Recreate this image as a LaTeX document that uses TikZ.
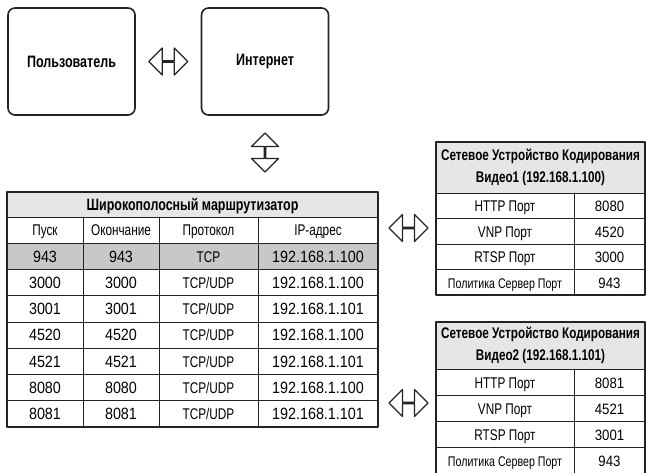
\documentclass[tikz,border=0pt]{standalone}
\usepackage{fontspec}
\setmainfont{Liberation Sans}[FakeStretch=0.76]
\newfontfamily\numfont{Liberation Sans}[FakeStretch=0.88]
\usetikzlibrary{shapes.arrows,calc}
\definecolor{hdrgray}{RGB}{230,230,230}
\definecolor{rowgray}{RGB}{200,200,200}
\definecolor{linegray}{RGB}{35,35,35}
\newcommand\polfont{\fontsize{14}{16}\selectfont}
\begin{document}
\begin{tikzpicture}[x=1pt, y=-1pt, line join=round, line cap=round,
  box/.style={draw=linegray, line width=1.6pt, rounded corners=7pt,
    minimum width=127pt, minimum height=107pt,
    font=\fontsize{16.5}{19}\selectfont\bfseries},
  dblarr/.style={double arrow, draw=linegray, line width=1.2pt, fill=white,
    inner sep=0pt, minimum width=27pt, minimum height=39pt,
    double arrow head extend=9.5pt},
  cell/.style={inner sep=0pt, text height=11.5pt, text depth=0pt,
    font=\fontsize{15.5}{18}\selectfont},
  num/.style={cell, font=\fontsize{16.3}{18}\numfont},
  snum/.style={cell, font=\fontsize{15}{18}\numfont},
  hcell/.style={inner sep=0pt, align=center,
    font=\fontsize{15.4}{22}\selectfont\bfseries},
  innerline/.style={draw=linegray, line width=0.9pt},
  outerline/.style={draw=linegray, line width=1.8pt}]
\useasboundingbox (0,0) rectangle (647,473);
% Hai khung tren
\node[box] (user) at (71.5,61.5) {Пользователь};
\node[box] (inet) at (265,61.5) {Интернет};
\node[dblarr] (a1) at ($(user.east)!0.5!(inet.west)$) {};
\node[dblarr, rotate=90] (a2) at (265,152.5) {};
% Bang lon: cot x = 7, 83, 159, 258, 378
\def\rh{26.25}
\fill[hdrgray] (7,192) rectangle (378,217);
\fill[rowgray] (7,{217+\rh}) rectangle (378,{217+2*\rh});
\draw[innerline] (7,217) -- (378,217);
\foreach \k in {1,...,7}
  \draw[innerline] (7,{217+\k*\rh}) -- (378,{217+\k*\rh});
\foreach \x in {83,159,258}
  \draw[innerline] (\x,217) -- (\x,427);
\draw[outerline] (7,192) rectangle (378,427);
\node[cell, font=\fontsize{16.4}{19}\selectfont\bfseries] (rt) at (192.5,204.5)
  {Широкополосный маршрутизатор};
\node[cell] (c0a) at (45,{217+0.5*\rh}) {Пуск};
\node[cell] (c0b) at (121,{217+0.5*\rh}) {Окончание};
\node[cell] (c0c) at (208.5,{217+0.5*\rh}) {Протокол};
\node[cell] (c0d) at (318,{217+0.5*\rh}) {IP-адрес};
\foreach \a/\b/\c/\d [count=\i] in {943/943/TCP/192.168.1.100,
    3000/3000/{TCP/UDP}/192.168.1.100, 3001/3001/{TCP/UDP}/192.168.1.101,
    4520/4520/{TCP/UDP}/192.168.1.100, 4521/4521/{TCP/UDP}/192.168.1.101,
    8080/8080/{TCP/UDP}/192.168.1.100, 8081/8081/{TCP/UDP}/192.168.1.101} {
  \pgfmathsetmacro\yy{217+(\i+0.5)*\rh}
  \node[num] (c\i a) at (45,\yy) {\a};
  \node[num] (c\i b) at (121,\yy) {\b};
  \node[cell] (c\i c) at (208.5,\yy) {\c};
  \node[num] (c\i d) at (318,\yy) {\d};
}
\node[dblarr] (a3) at (408.5,228) {};
\node[dblarr] (a4) at (408.5,403) {};
% Bang thiet bi 1
\def\ra{25.5}
\fill[hdrgray] (436,142) rectangle (645,193);
\foreach \k in {0,...,3}
  \draw[innerline] (436,{193+\k*\ra}) -- (645,{193+\k*\ra});
\draw[innerline] (574,193) -- (574,295);
\draw[outerline] (436,142) rectangle (645,295);
\node[hcell] (d1) at (540.5,167.5)
  {Сетевое Устройство Кодирования\\Видео1 (192.168.1.100)};
\foreach \t/\v [count=\i] in {HTTP Порт/8080, VNP Порт/4520,
    RTSP Порт/3000, {\polfont Политика Сервер Порт}/943} {
  \pgfmathsetmacro\yy{193+(\i-0.5)*\ra}
  \node[cell] (p\i) at (505,\yy) {\t};
  \node[snum] (v\i) at (609.5,\yy) {\v};
}
% Bang thiet bi 2
\def\rb{26}
\fill[hdrgray] (436,322) rectangle (645,369.5);
\foreach \k in {0,...,3}
  \draw[innerline] (436,{369.5+\k*\rb}) -- (645,{369.5+\k*\rb});
\draw[innerline] (574,369.5) -- (574,478);
\draw[outerline] (436,322) rectangle (645,478);
\node[hcell] (d2) at (540.5,345.5)
  {Сетевое Устройство Кодирования\\Видео2 (192.168.1.101)};
\foreach \t/\v [count=\i] in {HTTP Порт/8081, VNP Порт/4521,
    RTSP Порт/3001, {\polfont Политика Сервер Порт}/943} {
  \pgfmathsetmacro\yy{369.5+(\i-0.5)*\rb}
  \node[cell] (q\i) at (505,\yy) {\t};
  \node[snum] (w\i) at (609.5,\yy) {\v};
}
\end{tikzpicture}
\end{document}
